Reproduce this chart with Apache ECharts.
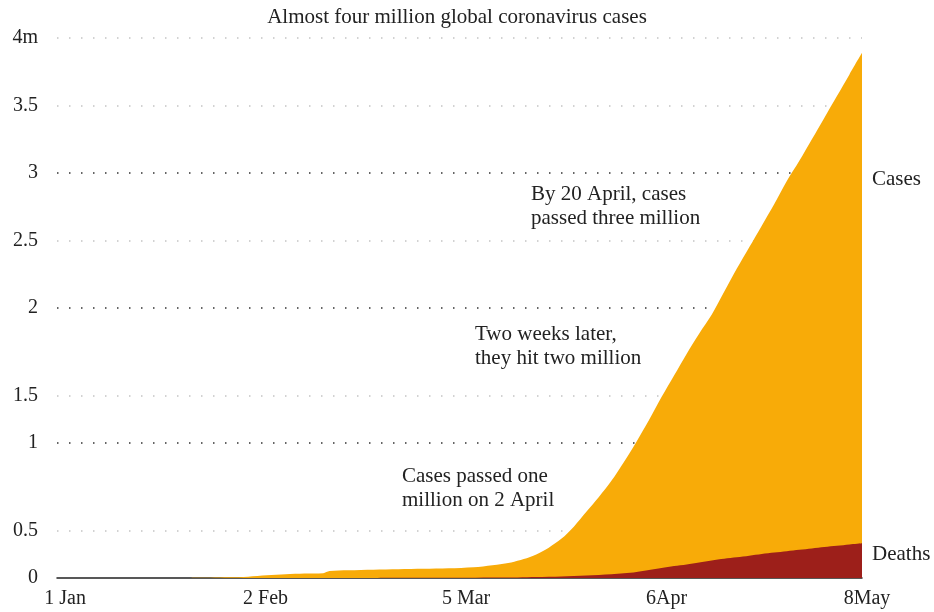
<!DOCTYPE html>
<html>
<head>
<meta charset="utf-8">
<script src="https://cdn.jsdelivr.net/npm/echarts@6/dist/echarts.min.js"></script>
<style>
html,body{margin:0;padding:0;background:#fff;}
#chart{width:934px;height:612px;}
</style>
</head>
<body>
<div id="chart"></div>
<script>
// Days counted from 1 January 2020 (day 0)
var caseDays = [21,24,27,30,33,36,39,42,43,46,50,54,58,62,66,69,72,74,76,78,80,82,84,86,88,90,92,94,96,98,100,102,104,106,108,110,112,114,116,118,120,122,124,126,128];
// Cumulative cases, millions
var caseValues = [0.001,0.002,0.005,0.01,0.02,0.028,0.033,0.036,0.052,0.058,0.062,0.065,0.068,0.072,0.08,0.095,0.115,0.14,0.175,0.225,0.29,0.38,0.49,0.6,0.72,0.86,1.01,1.17,1.34,1.5,1.66,1.81,1.95,2.12,2.29,2.45,2.61,2.77,2.94,3.09,3.25,3.41,3.57,3.73,3.89];
var deathDays = [50,60,70,76,80,84,88,90,92,94,96,98,100,102,104,106,108,110,112,114,116,118,120,122,124,126,128];
// Cumulative deaths, millions
var deathValues = [0,0.001,0.003,0.008,0.012,0.018,0.028,0.035,0.045,0.06,0.074,0.088,0.1,0.115,0.13,0.142,0.153,0.165,0.177,0.188,0.199,0.209,0.219,0.229,0.238,0.248,0.257];

var xTickDays = [0,32,64,96,128];
var xTickLabels = ['1 Jan','2 Feb','5 Mar','6Apr','8May'];
// y tick labels as placed in the reference
var yLabelValues = [0,0.35,1,1.35,2,2.5,3,3.5,4];
var yLabelTexts = ['0','0.5','1','1.5','2','2.5','3','3.5','4m'];
var yLightGrid = [0.35,1.35,2.5,3.5,4];
var yDarkGrid = [1,2,3];

var titleText = 'Almost four million global coronavirus cases';
var notes = [
  {text:'By 20 April, cases\npassed three million', x:531, y:182},
  {text:'Two weeks later,\nthey hit two million', x:475, y:322},
  {text:'Cases passed one\nmillion on 2 April', x:402, y:464}
];
var seriesLabels = [{text:'Cases', x:872, y:178},{text:'Deaths', x:872, y:553}];

var FONT = '"Liberation Serif", "DejaVu Serif", serif';
var TXT = '#222';

function zip(a,b){ return a.map(function(v,i){ return [v,b[i]]; }); }

var chart = echarts.init(document.getElementById('chart'), null, {renderer:'canvas'});

var graphics = notes.map(function(n){
  return {type:'text', left:n.x, top:n.y, silent:true,
    style:{text:n.text, font:'21px ' + FONT, fill:TXT, lineHeight:24}};
}).concat(seriesLabels.map(function(n){
  return {type:'text', left:n.x, top:n.y - 11, silent:true,
    style:{text:n.text, font:'21px ' + FONT, fill:TXT, lineHeight:24}};
}));

chart.setOption({
  animation:false,
  backgroundColor:'#fff',
  title:{text:titleText, left:452, top:2, textAlign:'center',
    textStyle:{fontFamily:FONT, fontSize:21, fontWeight:'normal', color:TXT}},
  grid:{left:57, right:72, top:38, bottom:34, containLabel:false},
  xAxis:{type:'value', min:-0.5, max:128,
    axisLine:{show:true, onZero:false, lineStyle:{color:'#222', width:1.5}},
    axisTick:{show:false},
    splitLine:{show:false},
    axisLabel:{customValues:xTickDays, margin:11, fontFamily:FONT, fontSize:20, color:TXT,
      padding:[0,0,0,10],
      formatter:function(v){ var i=xTickDays.indexOf(v); return i>=0?xTickLabels[i]:''; }}
  },
  yAxis:[
    {type:'value', min:0, max:4,
      axisLine:{show:false}, axisTick:{show:false, customValues:yLightGrid},
      splitLine:{show:true, lineStyle:{color:'#c4c4c4', width:1.5, type:[1.5,10.5]}},
      axisLabel:{customValues:yLabelValues, margin:19, fontFamily:FONT, fontSize:20, color:TXT,
        formatter:function(v){ for(var i=0;i<yLabelValues.length;i++){ if(Math.abs(yLabelValues[i]-v)<1e-6) return yLabelTexts[i]; } return ''; }}
    },
    {type:'value', min:0, max:4,
      axisLine:{show:false}, axisTick:{show:false, customValues:yDarkGrid},
      splitLine:{show:true, lineStyle:{color:'#333', width:1.5, type:[1.5,10.5]}},
      axisLabel:{show:false}
    }
  ],
  series:[
    {type:'line', name:'Cases', data:zip(caseDays, caseValues), showSymbol:false, smooth:0.3,
      lineStyle:{width:0}, areaStyle:{color:'#F8AB08', opacity:1}, z:2},
    {type:'line', name:'Deaths', data:zip(deathDays, deathValues), showSymbol:false, smooth:0.3,
      lineStyle:{width:0}, areaStyle:{color:'#9D1F1A', opacity:1}, z:3}
  ],
  graphic:graphics
});
</script>
</body>
</html>
